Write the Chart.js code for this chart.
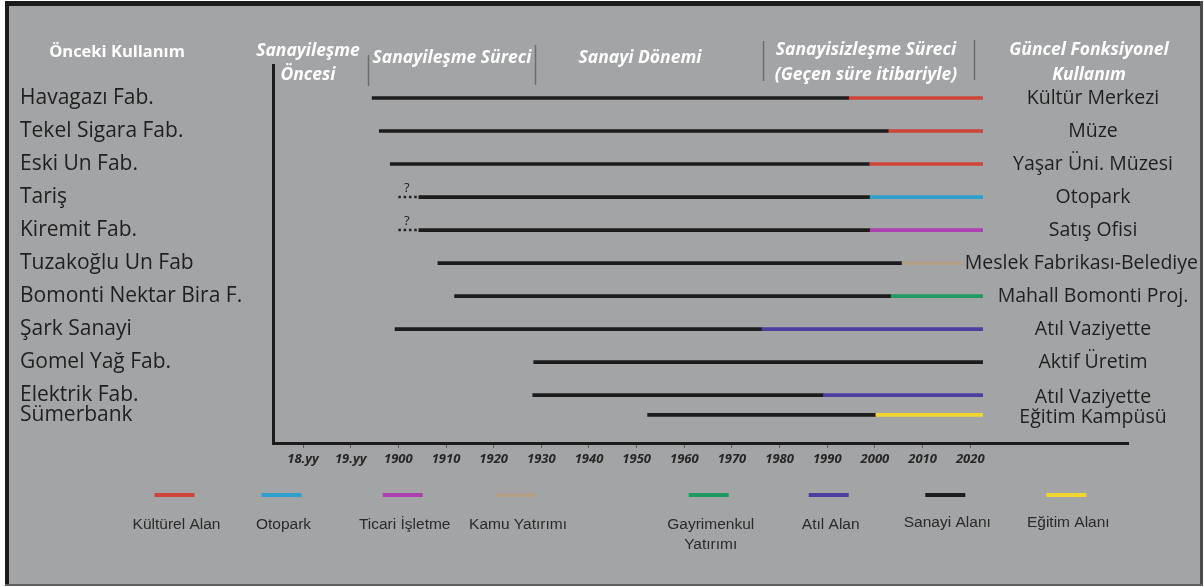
<!DOCTYPE html>
<html>
<head>
<meta charset="utf-8">
<script src="https://cdn.jsdelivr.net/npm/chart.js@4.4.1/dist/chart.umd.min.js"></script>
<style>
  html, body { margin: 0; padding: 0; background: #fff; }
  #wrap { width: 1204px; height: 587px; }
</style>
</head>
<body>
<div id="wrap"><canvas id="timeline" width="1204" height="587"></canvas></div>
<script>
// rows (top to bottom)
const facilities = ['Havagazı Fab.', 'Tekel Sigara Fab.', 'Eski Un Fab.', 'Tariş', 'Kiremit Fab.',
  'Tuzakoğlu Un Fab', 'Bomonti Nektar Bira F.', 'Şark Sanayi', 'Gomel Yağ Fab.', 'Elektrik Fab.', 'Sümerbank'];
const currentUses = ['Kültür Merkezi', 'Müze', 'Yaşar Üni. Müzesi', 'Otopark', 'Satış Ofisi',
  'Meslek Fabrikası-Belediye', 'Mahall Bomonti Proj.', 'Atıl Vaziyette', 'Aktif Üretim', 'Atıl Vaziyette', 'Eğitim Kampüsü'];
const rowSlot = [0, 1, 2, 3, 4, 5, 6, 7, 8, 9, 9.6];

// years
const industryStart = [1894.5, 1896, 1898.3, 1904.3, 1904.3, 1908.3, 1911.8, 1899.3, 1928.4, 1928.2, 1952.3];
const uncertainFrom = [null, null, null, 1900, 1900, null, null, null, null, null, null];
const conversionYear = [1994.6, 2002.9, 1998.9, 1999, 1999, 2005.7, 2003.4, 1976.3, 2022.6, 1989.2, 2000.2];
const presentYear = 2022.6;
const newUseType = ['Kültürel Alan', 'Kültürel Alan', 'Kültürel Alan', 'Otopark', 'Ticari İşletme', 'Kamu Yatırımı',
  'Gayrimenkul Yatırımı', 'Atıl Alan', 'Sanayi Alanı', 'Atıl Alan', 'Eğitim Alanı'];

// legend
const useTypes = ['Kültürel Alan', 'Otopark', 'Ticari İşletme', 'Kamu Yatırımı', 'Gayrimenkul Yatırımı', 'Atıl Alan', 'Sanayi Alanı', 'Eğitim Alanı'];
const useColors = ['#cf4438', '#2c9fca', '#ad40b0', '#b19f87', '#1f9b62', '#4d3e9f', '#1c1c1c', '#f0d52e'];

// x axis
const tickYears = [1880, 1890, 1900, 1910, 1920, 1930, 1940, 1950, 1960, 1970, 1980, 1990, 2000, 2010, 2020];
const tickLabels = ['18.yy', '19.yy', '1900', '1910', '1920', '1930', '1940', '1950', '1960', '1970', '1980', '1990', '2000', '2010', '2020'];

// period boundaries (separators in the heading row)
const periodBounds = [1893.6, 1928.7, 1976.5, 2020.8];

const datasets = useTypes.map((type, t) => {
  const data = [];
  facilities.forEach((f, i) => {
    if (type === 'Sanayi Alanı') {
      data.push({ x: [industryStart[i], conversionYear[i]], y: rowSlot[i] });
    } else if (newUseType[i] === type && conversionYear[i] < presentYear) {
      data.push({ x: [conversionYear[i], presentYear], y: rowSlot[i] });
    }
  });
  return {
    type: 'bar', label: type, data: data,
    backgroundColor: useColors[t], borderWidth: 0, barThickness: 3, grouped: false, order: type === 'Sanayi Alanı' ? 2 : 1
  };
});

// dotted "?" starts
facilities.forEach((f, i) => {
  if (uncertainFrom[i] == null) return;
  datasets.push({
    type: 'line', label: 'belirsiz', data: [{ x: uncertainFrom[i], y: rowSlot[i] }, { x: industryStart[i], y: rowSlot[i] }],
    borderColor: '#222', borderWidth: 2.5, borderDash: [2.5, 2.8], pointRadius: 0, order: 0
  });
});

const decor = {
  id: 'decor',
  beforeDraw(chart) {
    const ctx = chart.ctx;
    ctx.save();
    ctx.fillStyle = '#ffffff';
    ctx.fillRect(0, 0, 1204, 587);
    ctx.fillStyle = '#a3a4a6';
    ctx.fillRect(5, 1, 1198, 585);
    ctx.fillStyle = '#1b1b1b';
    ctx.fillRect(5, 1, 1198, 5);
    ctx.fillRect(5, 1, 4, 585);
    ctx.fillStyle = '#4a4a4a';
    ctx.fillRect(1200, 1, 3, 585);
    ctx.fillStyle = '#5e5e5e';
    ctx.fillRect(5, 584, 1198, 2);
    ctx.restore();
  },
  afterDraw(chart) {
    const ctx = chart.ctx;
    const xs = chart.scales.x, ys = chart.scales.y;
    ctx.save();

    // period separators
    const sepTop = [55, 45, 41, 40];
    ctx.strokeStyle = '#6c6c6c';
    ctx.lineWidth = 1.5;
    periodBounds.forEach((yr, k) => {
      const px = Math.round(xs.getPixelForValue(yr)) + 0.5;
      ctx.beginPath();
      ctx.moveTo(px, sepTop[k]);
      ctx.lineTo(px, sepTop[k] + 31 + (k === 0 ? 0 : 9));
      ctx.stroke();
    });

    // headings
    ctx.fillStyle = '#ffffff';
    ctx.textAlign = 'center';
    ctx.textBaseline = 'middle';
    ctx.font = 'bold 16.5px "Open Sans"';
    ctx.fillText('Önceki Kullanım', 117, 52);
    ctx.font = 'italic bold 17.5px "Open Sans"';
    ctx.fillText('Sanayileşme', 308, 51);
    ctx.fillText('Öncesi', 308, 75);
    ctx.fillText('Sanayileşme Süreci', 452, 58);
    ctx.fillText('Sanayi Dönemi', 640, 58);
    ctx.fillText('Sanayisizleşme Süreci', 866, 50);
    ctx.fillText('(Geçen süre itibariyle)', 866, 75);
    ctx.fillText('Güncel Fonksiyonel', 1089, 50);
    ctx.fillText('Kullanım', 1089, 75);

    // "?" marks over dotted starts
    ctx.fillStyle = '#222';
    ctx.font = '13px "Open Sans"';
    facilities.forEach((f, i) => {
      if (uncertainFrom[i] == null) return;
      ctx.fillText('?', xs.getPixelForValue((uncertainFrom[i] + industryStart[i]) / 2 - 0.4), ys.getPixelForValue(rowSlot[i]) - 9);
    });

    // current use labels on the right
    ctx.font = '19.5px "Open Sans"';
    currentUses.forEach((u, i) => {
      const w = ctx.measureText(u).width;
      const cx = Math.min(1093, 1198 - w / 2);
      const cy = ys.getPixelForValue(rowSlot[i]) + (i > 8 ? 2 : 0);
      ctx.fillStyle = '#a3a4a6';
      ctx.fillRect(cx - w / 2 - 1, cy - 8, w + 2, 16);
      ctx.fillStyle = '#1f1f1f';
      ctx.fillText(u, cx, cy);
    });

    // legend
    const legX = [174.5, 281.5, 402.7, 516, 708.7, 828.7, 945.3, 1066.3];
    ctx.font = '15.5px "Liberation Sans"';
    useTypes.forEach((type, t) => {
      ctx.fillStyle = useColors[t];
      ctx.fillRect(legX[t] - 20, 493, 40, 4);
      ctx.fillStyle = '#2a2a2a';
      if (type === 'Gayrimenkul Yatırımı') {
        ctx.fillText('Gayrimenkul', legX[t] + 2, 525);
        ctx.fillText('Yatırımı', legX[t] + 2, 545);
      } else {
        ctx.fillText(type, legX[t] + 2, t > 5 ? 523 : 525);
      }
    });
    ctx.restore();
  }
};

new Chart(document.getElementById('timeline'), {
  data: { datasets: datasets },
  options: {
    responsive: false,
    animation: false,
    indexAxis: 'y',
    layout: { padding: { left: 20, right: 76, top: 65, bottom: 114 } },
    plugins: { legend: { display: false }, tooltip: { enabled: false } },
    scales: {
      x: {
        type: 'linear', min: 1873.7, max: 2053.1, offset: false,
        afterFit: s => { s.height = 30; },
        afterBuildTicks: s => { s.ticks = tickYears.map(v => ({ value: v })); },
        ticks: {
          includeBounds: false, padding: 3, color: '#262626',
          font: { family: 'Open Sans', size: 13, style: 'italic', weight: 'bold' },
          callback: v => tickLabels[tickYears.indexOf(v)]
        },
        grid: { drawOnChartArea: false, drawTicks: true, tickLength: 5, color: '#5c5c5c', lineWidth: 1 },
        border: { display: true, color: '#1b1b1b', width: 3 }
      },
      y: {
        type: 'linear', reverse: true, min: -1, max: 10.45, offset: false,
        afterFit: s => { s.width = 253; },
        afterBuildTicks: s => { s.ticks = rowSlot.map(v => ({ value: v })); },
        ticks: {
          crossAlign: 'far', color: '#1f1f1f',
          font: { family: 'Open Sans', size: 21 },
          callback: v => facilities[rowSlot.indexOf(v)]
        },
        grid: { display: false },
        border: { display: true, color: '#1b1b1b', width: 3 }
      }
    }
  },
  plugins: [decor]
});
</script>
</body>
</html>
